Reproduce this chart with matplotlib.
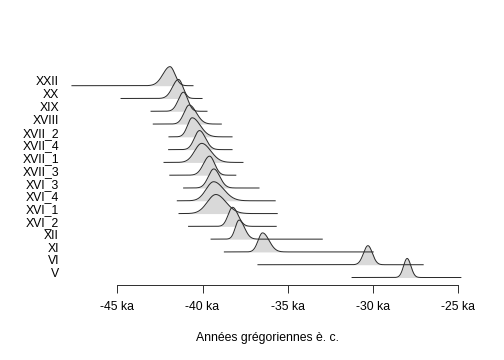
import numpy as np
import matplotlib
matplotlib.use("Agg")
import matplotlib.pyplot as plt

plt.rcParams['font.family'] = ['Liberation Sans', 'DejaVu Sans']

# Rows from top to bottom
labels = ["XXII", "XX", "XIX", "XVIII", "XVII_2", "XVII_4", "XVII_1", "XVII_3",
          "XVI_3", "XVI_4", "XVI_1", "XVI_2", "XII", "XI", "VI", "V"]
# mode of each distribution (ka, negative = BCE)
mode = [-41.91, -41.41, -41.12, -40.78, -40.61, -40.18, -40.05, -39.59,
        -39.34, -39.35, -39.22, -38.24, -37.86, -36.48, -30.30, -28.00]
# spread left / right of the mode (ka)
sd_left = [0.41, 0.35, 0.30, 0.30, 0.27, 0.30, 0.41, 0.35,
           0.32, 0.44, 0.50, 0.26, 0.22, 0.26, 0.26, 0.21]
sd_right = [0.29, 0.26, 0.26, 0.41, 0.47, 0.35, 0.53, 0.30,
            0.35, 0.59, 0.59, 0.32, 0.32, 0.38, 0.26, 0.22]
# range over which each density is drawn (ka)
range_start = [-47.66, -44.78, -43.02, -42.89, -41.97, -41.99, -42.26, -41.92,
               -41.11, -41.48, -41.38, -40.82, -39.50, -38.72, -36.75, -31.23]
range_end = [-40.56, -40.03, -39.74, -38.90, -38.27, -38.27, -37.63, -38.05,
             -36.69, -35.74, -35.62, -35.68, -32.98, -29.99, -27.06, -24.85]

xticks = [-45, -40, -35, -30, -25]
xticklabels = ["-45 ka", "-40 ka", "-35 ka", "-30 ka", "-25 ka"]
xlabel = "Années grégoriennes è. c."

W, H = 504, 360
fig = plt.figure(figsize=(W / 72, H / 72), dpi=72)
ax = fig.add_axes([64 / W, 75 / H, 406 / W, 230 / H])

n = len(labels)
peak_h = 1.49
for i in range(n):
    base = n - 1 - i
    xs = np.linspace(range_start[i], range_end[i], 600)
    d = np.where(xs < mode[i],
                 np.exp(-0.5 * ((xs - mode[i]) / sd_left[i]) ** 2),
                 np.exp(-0.5 * ((xs - mode[i]) / sd_right[i]) ** 2))
    ax.fill_between(xs, base, base + peak_h * d, color='#d9d9d9', lw=0, zorder=1)
    ax.plot(xs, base + peak_h * d, color='#2b2b2b', lw=1.0, zorder=2)

ax.set_xlim(-48.126, -24.314)
ax.set_ylim(-0.586, 17.4)

for s in ['top', 'right', 'left']:
    ax.spines[s].set_visible(False)
ax.spines['bottom'].set_bounds(-45, -25)
ax.spines['bottom'].set_color('#333333')
ax.spines['bottom'].set_linewidth(1.0)

fs = 12.2
ax.set_xticks(xticks)
ax.set_xticklabels(xticklabels, fontsize=fs)
ax.tick_params(axis='x', length=7.5, width=1.0, color='#333333', pad=9)

ax.set_yticks([n - 1 - i + 0.37 for i in range(n)])
ax.set_yticklabels(labels, fontsize=fs)
ax.tick_params(axis='y', length=0, pad=5)

fig.text(267 / W, 1 - 338 / H, xlabel, ha='center', va='center', fontsize=fs)

fig.savefig("out.png", dpi=72)
